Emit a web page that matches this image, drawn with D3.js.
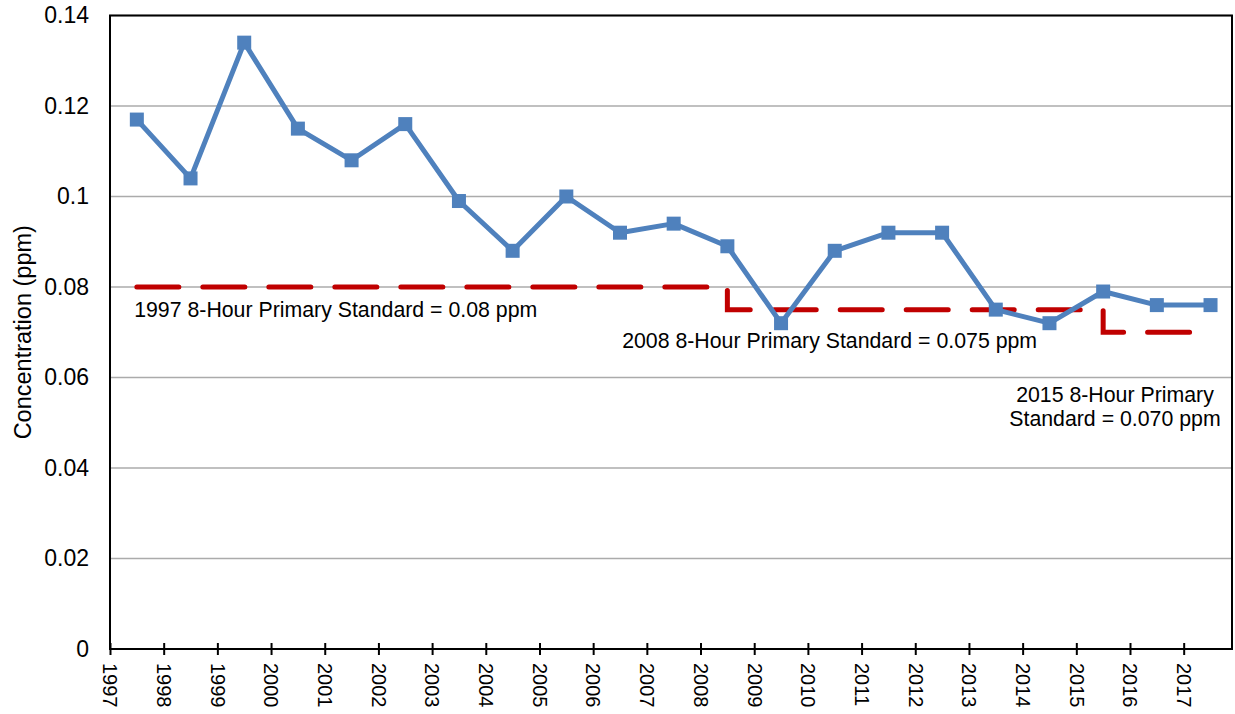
<!DOCTYPE html>
<html>
<head>
<meta charset="utf-8">
<script src="https://cdn.jsdelivr.net/npm/d3@7"></script>
<style>
  body { margin: 0; background: #fff; }
  svg { display: block; font-family: "Liberation Sans", Arial, sans-serif; }
  .grid line { stroke: #ababab; stroke-width: 1.5; }
  .axis path, .axis line { stroke: #000; stroke-width: 2; }
  .axis text { fill: #000; }
  .note { font-size: 21.3px; fill: #000; }
</style>
</head>
<body>
<div id="chart"></div>
<script>
// Annual ozone design value, one entry per year.
var years = [1997, 1998, 1999, 2000, 2001, 2002, 2003, 2004, 2005, 2006, 2007,
             2008, 2009, 2010, 2011, 2012, 2013, 2014, 2015, 2016, 2017];
var concentration = [0.117, 0.104, 0.134, 0.115, 0.108, 0.116, 0.099, 0.088, 0.100, 0.092, 0.094,
                     0.089, 0.072, 0.088, 0.092, 0.092, 0.075, 0.072, 0.079, 0.076, 0.076];
// 8-hour primary standard in force each year.
var standard = [0.08, 0.08, 0.08, 0.08, 0.08, 0.08, 0.08, 0.08, 0.08, 0.08, 0.08,
                0.075, 0.075, 0.075, 0.075, 0.075, 0.075, 0.075, 0.07, 0.07, 0.07];
var yTicks = [0, 0.02, 0.04, 0.06, 0.08, 0.1, 0.12, 0.14];
var yTickLabels = ["0", "0.02", "0.04", "0.06", "0.08", "0.1", "0.12", "0.14"];
var xTickLabels = ["1997", "1998", "1999", "2000", "2001", "2002", "2003", "2004", "2005", "2006", "2007",
                   "2008", "2009", "2010", "2011", "2012", "2013", "2014", "2015", "2016", "2017"];
var notes = [
    {lines: ["1997 8-Hour Primary Standard = 0.08 ppm"], year: 1997.45, value: 0.0733, anchor: "start"},
    {lines: ["2008 8-Hour Primary Standard = 0.075 ppm"], year: 2006.54, value: 0.0665, anchor: "start"},
    {lines: ["2015 8-Hour Primary", "Standard = 0.070 ppm"], year: 2015.72, value: 0.0545, anchor: "middle"}
];

var width = 1235,
    height = 714,
    margin = {top: 15.5, right: 3, bottom: 65, left: 110};

var svg = d3.select("#chart").append("svg")
    .attr("width", width)
    .attr("height", height);

var x = d3.scaleLinear()
    .domain([1997, 2017.9])
    .range([margin.left, width - margin.right]);

var y = d3.scaleLinear()
    .domain([0, 0.14])
    .range([height - margin.bottom, margin.top]);

// Gridlines
svg.append("g").attr("class", "grid")
  .selectAll("line").data(yTicks.filter(function(d) { return d > 0; }))
  .enter().append("line")
    .attr("x1", x.range()[0])
    .attr("x2", x.range()[1])
    .attr("y1", function(d) { return y(d); })
    .attr("y2", function(d) { return y(d); });

// Plot border
svg.append("rect")
    .attr("x", x.range()[0])
    .attr("y", y.range()[1])
    .attr("width", x.range()[1] - x.range()[0])
    .attr("height", y.range()[0] - y.range()[1])
    .attr("fill", "none")
    .attr("stroke", "#000")
    .attr("stroke-width", 2);

// Y axis
var yAxis = svg.append("g")
    .attr("class", "axis")
    .attr("transform", "translate(" + x.range()[0] + ",0)")
    .call(d3.axisLeft(y)
        .tickValues(yTicks)
        .tickSize(0)
        .tickPadding(21)
        .tickFormat(function(d, i) { return yTickLabels[i]; }));
yAxis.select(".domain").remove();
yAxis.selectAll("text")
    .attr("font-size", 23)
    .attr("font-family", "Liberation Sans, Arial, sans-serif");

// X axis, ticks cross the axis line
var xAxis = svg.append("g")
    .attr("class", "axis")
    .attr("transform", "translate(0," + y(0) + ")")
    .call(d3.axisBottom(x)
        .tickValues(years)
        .tickSizeOuter(0)
        .tickFormat(function(d, i) { return xTickLabels[i]; }));
xAxis.select(".domain").attr("d", "M" + x.range()[0] + ",0H" + x.range()[1]);
xAxis.selectAll(".tick line").attr("y1", -6).attr("y2", 6);
xAxis.selectAll(".tick text")
    .attr("font-size", 20)
    .attr("font-family", "Liberation Sans, Arial, sans-serif")
    .attr("text-anchor", "start")
    .attr("transform", "rotate(90)")
    .attr("x", 14)
    .attr("y", 0)
    .attr("dy", "0.36em");

// Y axis title
svg.append("text")
    .attr("transform", "translate(23," + ((y.range()[0] + y.range()[1]) / 2) + ") rotate(-90)")
    .attr("text-anchor", "middle")
    .attr("dy", "0.35em")
    .attr("font-size", 23.5)
    .text("Concentration (ppm)");

// Standard step line
var stdLine = d3.line()
    .curve(d3.curveStepAfter)
    .x(function(d, i) { return x(years[i] + 0.5); })
    .y(function(d) { return y(d); });

svg.append("path")
    .datum(standard)
    .attr("d", stdLine)
    .attr("fill", "none")
    .attr("stroke", "#c00000")
    .attr("stroke-width", 5)
    .attr("stroke-linecap", "round")
    .attr("stroke-dasharray", "42,24");

// Concentration line and markers
var valueLine = d3.line()
    .x(function(d, i) { return x(years[i] + 0.5); })
    .y(function(d) { return y(d); });

svg.append("path")
    .datum(concentration)
    .attr("d", valueLine)
    .attr("fill", "none")
    .attr("stroke", "#4f81bd")
    .attr("stroke-width", 5)
    .attr("stroke-linejoin", "round");

var size = 14;
svg.append("g").selectAll("rect").data(concentration)
  .enter().append("rect")
    .attr("x", function(d, i) { return x(years[i] + 0.5) - size / 2; })
    .attr("y", function(d) { return y(d) - size / 2; })
    .attr("width", size)
    .attr("height", size)
    .attr("fill", "#4f81bd");

// Annotations
notes.forEach(function(n) {
    var t = svg.append("text")
        .attr("class", "note")
        .attr("text-anchor", n.anchor);
    n.lines.forEach(function(line, i) {
        t.append("tspan")
            .attr("x", x(n.year))
            .attr("y", y(n.value) + i * 24)
            .text(line);
    });
});
</script>
</body>
</html>
